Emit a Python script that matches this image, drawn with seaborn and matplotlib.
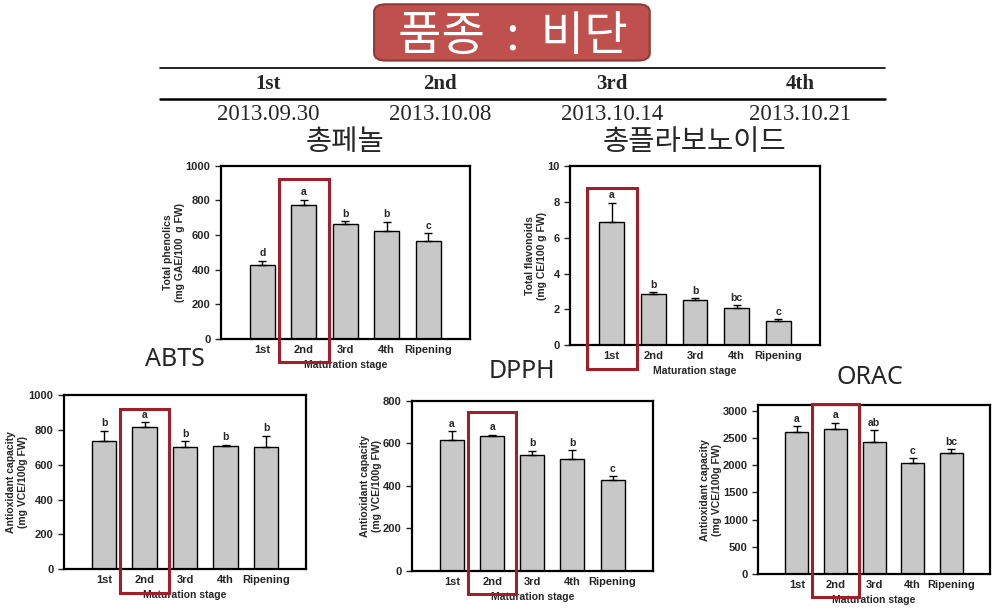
import numpy as np
import pandas as pd
import seaborn as sns
import matplotlib.pyplot as plt
from matplotlib.patches import FancyBboxPatch, Rectangle
from matplotlib.lines import Line2D
from matplotlib.transforms import blended_transform_factory

# Data
stages = ['1st', '2nd', '3rd', '4th', 'Ripening']
harvest_labels = ['1st', '2nd', '3rd', '4th']
harvest_dates = ['2013.09.30', '2013.10.08', '2013.10.14', '2013.10.21']

phenolics_mean = [430, 775, 665, 625, 565]
phenolics_err = [22, 30, 15, 52, 45]
phenolics_letters = ['d', 'a', 'b', 'b', 'c']

flavonoids_mean = [6.9, 2.85, 2.5, 2.08, 1.35]
flavonoids_err = [1.05, 0.1, 0.12, 0.15, 0.1]
flavonoids_letters = ['a', 'b', 'b', 'bc', 'c']

abts_mean = [735, 820, 705, 710, 705]
abts_err = [60, 25, 30, 5, 62]
abts_letters = ['b', 'a', 'b', 'b', 'b']

dpph_mean = [615, 635, 545, 525, 430]
dpph_err = [42, 5, 20, 42, 15]
dpph_letters = ['a', 'a', 'b', 'b', 'c']

orac_mean = [2600, 2660, 2420, 2035, 2230]
orac_err = [110, 120, 220, 90, 60]
orac_letters = ['a', 'a', 'ab', 'c', 'bc']

sns.set_style('white')
plt.rcParams['font.family'] = ['Liberation Sans', 'Noto Sans CJK KR', 'DejaVu Sans']

fig = plt.figure(figsize=(9.95, 6.12), dpi=100)

RED = '#a11f2a'


def draw_panel(rect, means, errs, letters, ylim, yticks, ylabel, highlight, box_top):
    ax = fig.add_axes(rect)
    df = pd.DataFrame({'stage': stages, 'value': means})
    sns.barplot(data=df, x='stage', y='value', color='#c8c8c8', saturation=1,
                edgecolor='black', linewidth=1, width=0.6, ax=ax)
    x = np.arange(len(stages))
    ax.errorbar(x, means, yerr=[np.zeros(len(errs)), errs], fmt='none',
                ecolor='black', elinewidth=1, capsize=3, capthick=1)
    off = (ylim[1] - ylim[0]) * 0.015
    for i, (m, e, l) in enumerate(zip(means, errs, letters)):
        ax.text(i, m + e + off, l, ha='center', va='bottom', fontsize=7.5, fontweight='bold')
    ax.set_xlim(-1, 5)
    ax.set_ylim(*ylim)
    ax.set_yticks(yticks)
    for s in ax.spines.values():
        s.set_visible(True)
        s.set_color('black')
        s.set_linewidth(1.6)
    ax.tick_params(axis='y', direction='out', length=4, width=1, left=True, labelsize=8)
    ax.tick_params(axis='x', length=0, labelsize=8, pad=4)
    for t in ax.get_xticklabels() + ax.get_yticklabels():
        t.set_fontweight('bold')
    ax.set_xlabel('Maturation stage', fontsize=7.5, fontweight='bold', labelpad=4)
    ax.set_ylabel(ylabel, fontsize=7.5, fontweight='bold', labelpad=0.5)
    tr = blended_transform_factory(ax.transData, ax.transAxes)
    ax.add_patch(Rectangle((highlight - 0.6, -0.135), 1.2, box_top + 0.135, transform=tr,
                           fill=False, edgecolor=RED, linewidth=2.2, clip_on=False, zorder=5))
    return ax


draw_panel([0.222, 0.446, 0.250, 0.283], phenolics_mean, phenolics_err, phenolics_letters,
           (0, 1000), range(0, 1001, 200), 'Total phenolics\n(mg GAE/100  g FW)', 1, 0.925)
draw_panel([0.573, 0.436, 0.251, 0.292], flavonoids_mean, flavonoids_err, flavonoids_letters,
           (0, 10), range(0, 11, 2), 'Total flavonoids\n(mg CE/100 g FW)', 0, 0.877)
draw_panel([0.064, 0.070, 0.244, 0.284], abts_mean, abts_err, abts_letters,
           (0, 1000), range(0, 1001, 200), 'Antioxidant capacity\n(mg VCE/100g FW)', 1, 0.92)
draw_panel([0.414, 0.067, 0.242, 0.278], dpph_mean, dpph_err, dpph_letters,
           (0, 800), range(0, 801, 200), 'Antioxidant capacity\n(mg VCE/100g FW)', 1, 0.935)
draw_panel([0.762, 0.062, 0.233, 0.276], orac_mean, orac_err, orac_letters,
           (0, 3100), range(0, 3001, 500), 'Antioxidant capacity\n(mg VCE/100g FW)', 1, 1.006)

cjk = ['Noto Sans CJK KR', 'DejaVu Sans']

# Title box
fig.add_artist(FancyBboxPatch((0.376, 0.901), 0.277, 0.092, boxstyle='round,pad=0,rounding_size=0.012',
                              transform=fig.transFigure, facecolor='#c0504d', edgecolor='#8c3a38',
                              linewidth=1.5))
fig.text(0.515, 0.94, '품종  :  비단', ha='center', va='center', fontsize=34, color='white',
         family=cjk)

# Harvest table
fig.add_artist(Line2D([160 / 995, 885 / 995], [1 - 68 / 612] * 2, color='black', lw=1.2))
fig.add_artist(Line2D([160 / 995, 885 / 995], [1 - 99 / 612] * 2, color='black', lw=1.8))
for xp, lab, dt in zip([268, 440, 612, 800], harvest_labels, harvest_dates):
    fig.text(xp / 995, 1 - 84 / 612, lab, ha='center', va='center', fontsize=15,
             fontweight='bold', family='Liberation Serif')
    fig.text(xp / 995, 1 - 114 / 612, dt, ha='center', va='center', fontsize=16.5,
             family='Liberation Serif')

# Panel captions
sans = ['Noto Sans', 'DejaVu Sans']
fig.text(345 / 995, 1 - 142 / 612, '총페놀', ha='center', va='center', fontsize=20.5, family=cjk)
fig.text(695 / 995, 1 - 142 / 612, '총플라보노이드', ha='center', va='center', fontsize=20.5, family=cjk)
fig.text(175 / 995, 1 - 360 / 612, 'ABTS', ha='center', va='center', fontsize=18, family=sans)
fig.text(522 / 995, 1 - 372 / 612, 'DPPH', ha='center', va='center', fontsize=18, family=sans)
fig.text(870 / 995, 1 - 378 / 612, 'ORAC', ha='center', va='center', fontsize=18, family=sans)

plt.savefig('out.png', dpi=100)
